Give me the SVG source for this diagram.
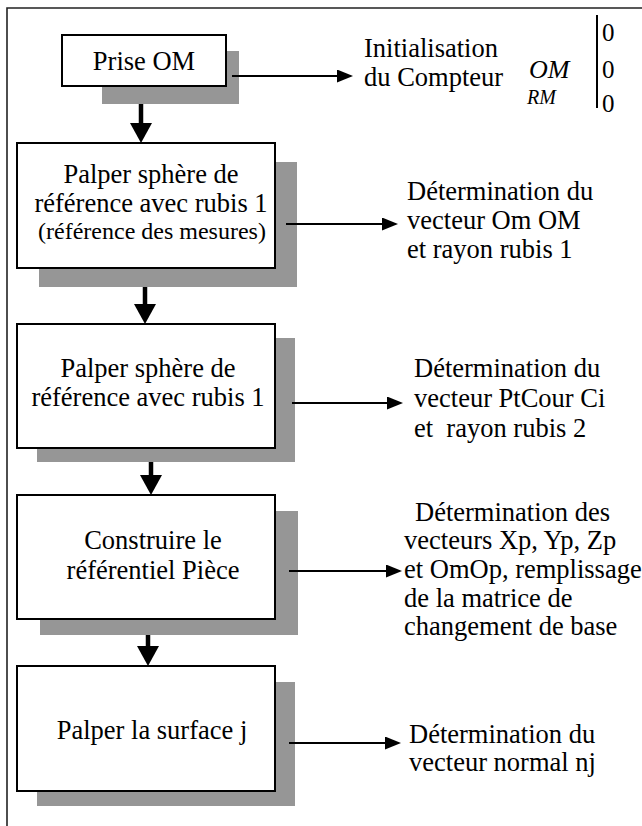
<svg xmlns="http://www.w3.org/2000/svg" width="642" height="826" viewBox="0 0 642 826">
<style>
.frame{stroke:#222;stroke-width:1.6;fill:none}
.box{fill:#fff;stroke:#000;stroke-width:2}
.shadow{fill:#969696}
.t{font-family:"Liberation Serif","Times New Roman",serif;font-size:26.5px;fill:#000;white-space:pre}
.c{text-anchor:middle}
.small{font-size:24px}
.it{font-style:italic}
.thick{stroke:#000;stroke-width:4.5;fill:none}
.thin{stroke:#000;stroke-width:2;fill:none}
</style>
<defs>
<marker id="ah" markerUnits="userSpaceOnUse" markerWidth="20" markerHeight="22" viewBox="0 0 20 22" refX="10" refY="11" orient="auto">
<path d="M0,0 L20,11 L0,22 z" fill="#000"/>
</marker>
<marker id="as" markerUnits="userSpaceOnUse" markerWidth="16" markerHeight="13" viewBox="0 0 16 13" refX="8" refY="6.5" orient="auto">
<path d="M0,0 L16,6.5 L0,13 z" fill="#000"/>
</marker>
</defs>
<rect width="642" height="826" fill="#fff"/>
<path class="frame" d="M7,826 L7,8 L642,8"/>

<g id="n1">
<rect class="shadow" x="102" y="51" width="137" height="53"/>
<rect class="box" x="62" y="35" width="164" height="51"/>
<text class="t c" x="144" y="70">Prise OM</text>
</g>
<g id="n2">
<rect class="shadow" x="39" y="162" width="258" height="125"/>
<rect class="box" x="17" y="143" width="258" height="125"/>
<text class="t c" x="151" y="183">Palper sphère de</text>
<text class="t c" x="151" y="212">référence avec rubis 1</text>
<text class="t c small" x="152" y="239">(référence des mesures)</text>
</g>
<g id="n3">
<rect class="shadow" x="37" y="338" width="258" height="124"/>
<rect class="box" x="17" y="324" width="258" height="124"/>
<text class="t c" x="148" y="377">Palper sphère de</text>
<text class="t c" x="148" y="406">référence avec rubis 1</text>
</g>
<g id="n4">
<rect class="shadow" x="40" y="511" width="258" height="124"/>
<rect class="box" x="17" y="495" width="258" height="124"/>
<text class="t c" x="153" y="549">Construire le</text>
<text class="t c" x="153" y="579">référentiel Pièce</text>
</g>
<g id="n5">
<rect class="shadow" x="37" y="682" width="258" height="124"/>
<rect class="box" x="17" y="666" width="258" height="125"/>
<text class="t c" x="152" y="739">Palper la surface j</text>
</g>

<g id="l1">
<text class="t" x="364" y="57">Initialisation</text>
<text class="t" x="364" y="86">du Compteur</text>
<text class="t it" x="529" y="78" style="font-size:26px">OM</text>
<text class="t it" x="527" y="104" style="font-size:20px">RM</text>
<line x1="597" y1="15" x2="597" y2="108" stroke="#000" stroke-width="2"/>
<text class="t" x="602" y="41" style="font-size:25px">0</text>
<text class="t" x="602" y="78" style="font-size:25px">0</text>
<text class="t" x="602" y="112" style="font-size:25px">0</text>
</g>
<g id="l2">
<text class="t" x="407" y="200">Détermination du</text>
<text class="t" x="407" y="229">vecteur Om OM</text>
<text class="t" x="407" y="258">et rayon rubis 1</text>
</g>
<g id="l3">
<text class="t" x="414" y="377">Détermination du</text>
<text class="t" x="414" y="407">vecteur PtCour Ci</text>
<text class="t" x="414" y="437">et  rayon rubis 2</text>
</g>
<g id="l4">
<text class="t" x="415" y="521">Détermination des</text>
<text class="t" x="404" y="549">vecteurs Xp, Yp, Zp</text>
<text class="t" x="404" y="578">et OmOp, remplissage</text>
<text class="t" x="404" y="607">de la matrice de</text>
<text class="t" x="404" y="635">changement de base</text>
</g>
<g id="l5">
<text class="t" x="409" y="743">Détermination du</text>
<text class="t" x="409" y="771">vecteur normal nj</text>
</g>

<g id="connectors">
<line class="thick" x1="141" y1="104" x2="141" y2="133" marker-end="url(#ah)"/>
<line class="thick" x1="145" y1="287" x2="145" y2="314" marker-end="url(#ah)"/>
<line class="thick" x1="151" y1="462" x2="151" y2="485" marker-end="url(#ah)"/>
<line class="thick" x1="148" y1="635" x2="148" y2="656" marker-end="url(#ah)"/>
<line class="thin" x1="232" y1="76" x2="345" y2="76" marker-end="url(#as)"/>
<line class="thin" x1="286" y1="224" x2="390" y2="224" marker-end="url(#as)"/>
<line class="thin" x1="292" y1="403" x2="395" y2="403" marker-end="url(#as)"/>
<line class="thin" x1="289" y1="571" x2="394" y2="571" marker-end="url(#as)"/>
<line class="thin" x1="289" y1="743" x2="393" y2="743" marker-end="url(#as)"/>
</g>
</svg>
